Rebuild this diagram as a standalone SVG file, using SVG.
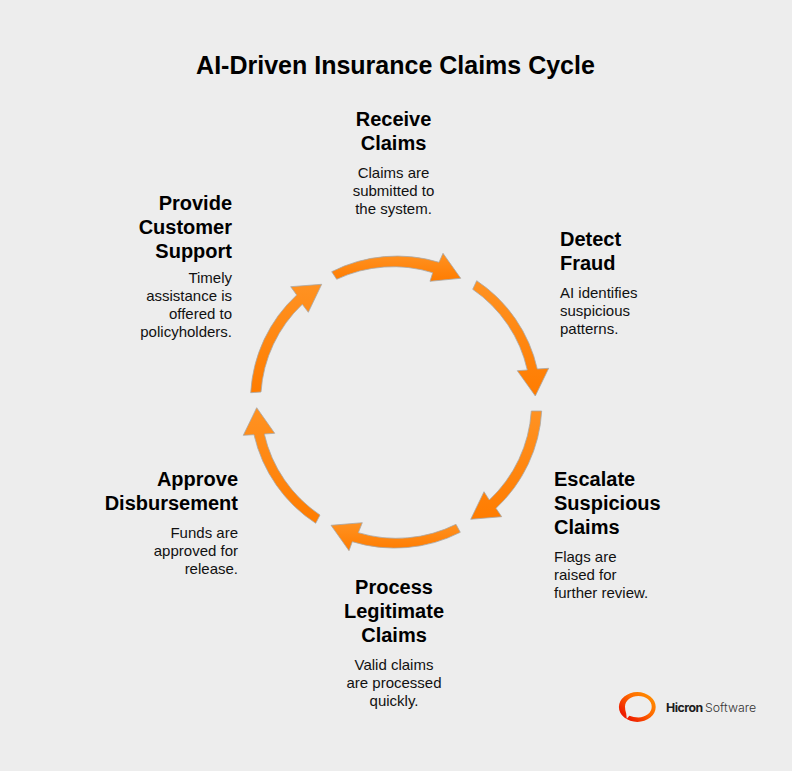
<svg xmlns="http://www.w3.org/2000/svg" width="792" height="771" viewBox="0 0 792 771">
<style>
text{font-family:"Liberation Sans",Arial,sans-serif;fill:#000}
.t{font-size:25px;font-weight:700;text-anchor:middle}
.h{font-size:20px;font-weight:700}
.d{font-size:15px;fill:#111}
.m{text-anchor:middle}
.e{text-anchor:end}
.a{fill:url(#g);stroke:#a8a8a8;stroke-width:.8;stroke-linejoin:miter}
.l{font-family:Inter,"Liberation Sans",sans-serif;font-size:12.3px}
</style>
<defs>
<linearGradient id="g" x1="0" y1="0" x2="0" y2="1"><stop offset="0" stop-color="#ff9222"/><stop offset="1" stop-color="#ff7c00"/></linearGradient>
<linearGradient id="r" x1="1" y1="0" x2="0" y2=".9"><stop offset="0" stop-color="#ff9a00"/><stop offset=".45" stop-color="#ff6a00"/><stop offset=".85" stop-color="#ee1c00"/></linearGradient>
</defs>
<rect width="792" height="771" fill="#ededed"/>
<text class="t" x="395.5" y="74">AI-Driven Insurance Claims Cycle</text>
<g id="connectors">
<path class="a" d="M331.7 271.7A144 144 0 0 1 439 262.3L443 253.3L460.7 278.3L430 281.3L432.7 272.7A133.5 133.5 0 0 0 336.7 279.3Z"/>
<path class="a" d="M476.7 280.7A144 144 0 0 1 537.3 369L548.7 368.3L535.3 396L517.3 370.7L527.3 370A133.5 133.5 0 0 0 472.7 289.3Z"/>
<path class="a" d="M541.7 411A144 144 0 0 1 496 508.3L501.7 516.7L470.7 519.3L484 491.7L489.3 500A133.5 133.5 0 0 0 531.3 411Z"/>
<path class="a" d="M460.3 532.3A144 144 0 0 1 352.3 541.7L349 550.7L331 525.3L362.3 522.7L358.3 532.7A133.5 133.5 0 0 0 456 524.3Z"/>
<path class="a" d="M315.7 523.3A144 144 0 0 1 254 434.7L243.3 435.3L256.7 407.7L274.7 433.3L264.3 434A133.5 133.5 0 0 0 320 515Z"/>
<path class="a" d="M250.7 392.7A144 144 0 0 1 296.7 295L290.7 286.7L321.7 284.3L308.3 312.3L302.3 304.3A133.5 133.5 0 0 0 261 392Z"/>
</g>
<g id="receive-claims">
<text class="h m" x="393.5" y="126">Receive</text><text class="h m" x="393.5" y="150">Claims</text>
<text class="d m" x="393.5" y="178">Claims are</text><text class="d m" x="393.5" y="196">submitted to</text><text class="d m" x="393.5" y="214">the system.</text>
</g>
<g id="detect-fraud">
<text class="h" x="560" y="246">Detect</text><text class="h" x="560" y="270">Fraud</text>
<text class="d" x="560" y="298">AI identifies</text><text class="d" x="560" y="316">suspicious</text><text class="d" x="560" y="334">patterns.</text>
</g>
<g id="escalate-suspicious-claims">
<text class="h" x="554" y="486">Escalate</text><text class="h" x="554" y="510">Suspicious</text><text class="h" x="554" y="534">Claims</text>
<text class="d" x="554" y="562">Flags are</text><text class="d" x="554" y="580">raised for</text><text class="d" x="554" y="598">further review.</text>
</g>
<g id="process-legitimate-claims">
<text class="h m" x="394" y="594">Process</text><text class="h m" x="394" y="618">Legitimate</text><text class="h m" x="394" y="642">Claims</text>
<text class="d m" x="394" y="670">Valid claims</text><text class="d m" x="394" y="688">are processed</text><text class="d m" x="394" y="706">quickly.</text>
</g>
<g id="approve-disbursement">
<text class="h e" x="238" y="486">Approve</text><text class="h e" x="238" y="510">Disbursement</text>
<text class="d e" x="238" y="538">Funds are</text><text class="d e" x="238" y="556">approved for</text><text class="d e" x="238" y="574">release.</text>
</g>
<g id="provide-customer-support">
<text class="h e" x="232" y="210">Provide</text><text class="h e" x="232" y="234">Customer</text><text class="h e" x="232" y="258">Support</text>
<text class="d e" x="232" y="283">Timely</text><text class="d e" x="232" y="301">assistance is</text><text class="d e" x="232" y="319">offered to</text><text class="d e" x="232" y="337">policyholders.</text>
</g>
<g id="logo">
<path fill="url(#r)" fill-rule="evenodd" d="M618.9 707a18.4 15 0 1 0 36.8 0a18.4 15 0 1 0 -36.8 0ZM625 706.7a13.3 10.7 0 0 1 26.7 0a13.3 10.7 0 0 1 -13.3 10.7q-5 0 -9 -1.6l-2.6 3l-.6 -5.4q-1.2 -3.2 -1.2 -6.7Z"/>
<text class="l" x="666" y="712" style="font-weight:700;fill:#1c1c1c;letter-spacing:-.5px">Hicron</text>
<text class="l" x="705" y="712" style="font-weight:300;fill:#333">Software</text>
</g>
</svg>
